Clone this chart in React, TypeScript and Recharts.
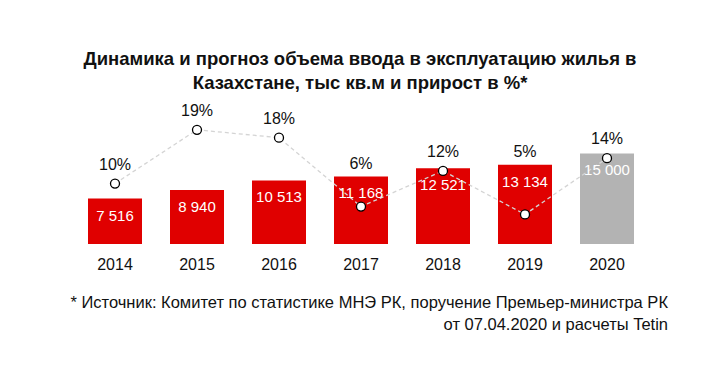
import React from 'react';
import { ComposedChart, Bar, Line, XAxis, YAxis, Cell, LabelList } from 'recharts';

const years = ['2014', '2015', '2016', '2017', '2018', '2019', '2020'];
const volume = [7516, 8940, 10513, 11168, 12521, 13134, 15000];
const volumeLabels = ['7 516', '8 940', '10 513', '11 168', '12 521', '13 134', '15 000'];
const growth = [10.0, 18.9, 17.6, 6.2, 12.1, 4.9, 14.2];
const growthLabels = ['10%', '19%', '18%', '6%', '12%', '5%', '14%'];
const forecastYears = ['2020'];

const data = years.map((year, i) => ({
  year,
  volume: volume[i],
  volumeLabel: volumeLabels[i],
  growth: growth[i],
  growthLabel: growthLabels[i],
}));

const FONT = '"Liberation Sans", Arial, sans-serif';
const RED = '#e00000';
const GREY = '#b3b3b3';

// bar tops, filled while bar labels render, used to keep % labels above bars
const barTops: Record<number, number> = {};

const BarValueLabel = (props: any) => {
  const { x, y, width, index } = props;
  barTops[index] = y;
  return (
    <text
      x={x + width / 2}
      y={y + 18}
      textAnchor="middle"
      dominantBaseline="middle"
      fill="#fff"
      fontSize={15}
      fontFamily={FONT}
    >
      {data[index].volumeLabel}
    </text>
  );
};

const GrowthLabel = (props: any) => {
  const { x, y, index } = props;
  const top = barTops[index];
  const ly = top !== undefined ? Math.min(y - 18, top - 12) : y - 18;
  return (
    <text
      x={x}
      y={ly}
      textAnchor="middle"
      dominantBaseline="middle"
      fill="#111"
      fontSize={16}
      fontFamily={FONT}
    >
      {data[index].growthLabel}
    </text>
  );
};

export default function App() {
  return (
    <div
      style={{
        position: 'absolute',
        left: 0,
        top: 0,
        width: 720,
        height: 387,
        background: '#fff',
        fontFamily: FONT,
      }}
    >
      <div
        style={{
          position: 'absolute',
          top: 47,
          left: 0,
          width: 720,
          textAlign: 'center',
          fontWeight: 'bold',
          fontSize: 18.5,
          lineHeight: '24px',
          color: '#111',
        }}
      >
        Динамика и прогноз объема ввода в эксплуатацию жилья в
        <br />
        Казахстане, тыс кв.м и прирост в %*
      </div>

      <div style={{ position: 'absolute', top: 0, left: 0 }}>
        <ComposedChart
          width={720}
          height={300}
          data={data}
          margin={{ top: 99, right: 72, bottom: 26, left: 74 }}
          barCategoryGap={14}
        >
          <XAxis
            dataKey="year"
            axisLine={false}
            tickLine={false}
            height={30}
            tickMargin={9}
            tick={{ fill: '#111', fontSize: 16, fontFamily: FONT }}
            interval={0}
          />
          <YAxis yAxisId="vol" hide domain={[0, 24000]} />
          <YAxis yAxisId="pct" hide orientation="right" domain={[0, 24]} />
          <Bar yAxisId="vol" dataKey="volume" isAnimationActive={false}>
            {data.map((d) => (
              <Cell key={d.year} fill={forecastYears.includes(d.year) ? GREY : RED} />
            ))}
            <LabelList dataKey="volume" content={BarValueLabel} />
          </Bar>
          <Line
            yAxisId="pct"
            dataKey="growth"
            type="linear"
            stroke="#d4d4d4"
            strokeWidth={1.3}
            strokeDasharray="4 3"
            dot={{ r: 4.5, fill: '#fff', stroke: '#000', strokeWidth: 1.3, strokeDasharray: '0' }}
            activeDot={false}
            isAnimationActive={false}
          >
            <LabelList dataKey="growth" content={GrowthLabel} />
          </Line>
        </ComposedChart>
      </div>

      <div
        style={{
          position: 'absolute',
          top: 291,
          right: 52,
          textAlign: 'right',
          fontSize: 16.5,
          lineHeight: '22px',
          color: '#111',
          whiteSpace: 'nowrap',
        }}
      >
        * Источник: Комитет по статистике МНЭ РК, поручение Премьер-министра РК
        <br />
        от 07.04.2020 и расчеты Tetin
      </div>
    </div>
  );
}
